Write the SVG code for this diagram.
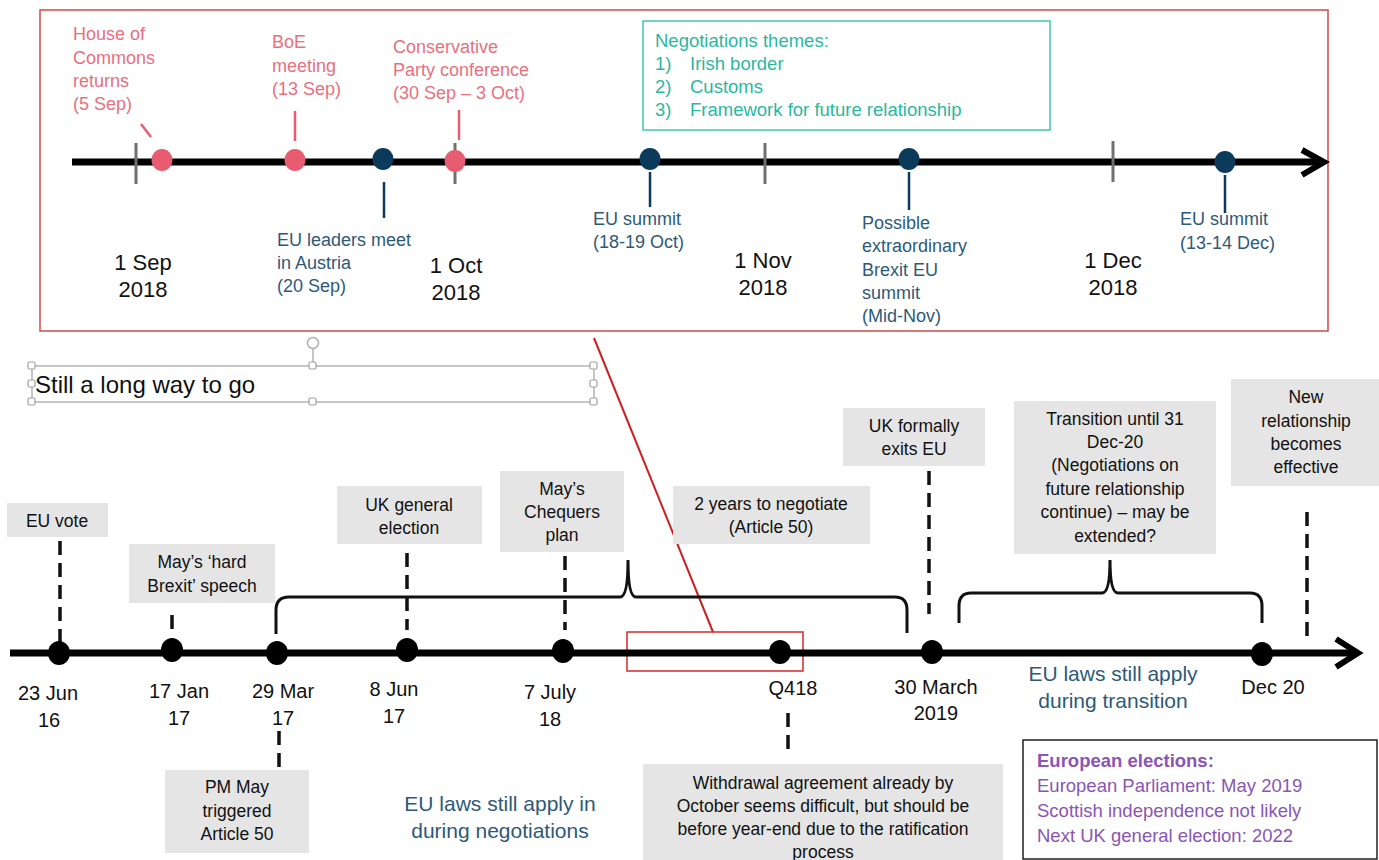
<svg xmlns="http://www.w3.org/2000/svg" width="1379" height="860" viewBox="0 0 1379 860">
<style>
text{font-family:"Liberation Sans",Arial,sans-serif}
.pk{fill:#e8707e;font-size:18px}
.nv{fill:#2d5a78;font-size:18px}
.dt{fill:#111;font-size:22px;text-anchor:middle}
.bd{fill:#111;font-size:20px;text-anchor:middle}
.bx{fill:#e5e5e5}
.bt{fill:#111;font-size:17.5px;text-anchor:middle}
.tl{fill:#2ab89e;font-size:18.5px}
.pu{fill:#8a55b4;font-size:18.5px}
.law{fill:#2d5a78;font-size:21px;text-anchor:middle}
.tick{stroke:#707070;stroke-width:3}
.dash{stroke:#111;stroke-width:3.5;stroke-dasharray:14 8;fill:none}
.brace{stroke:#111;stroke-width:3;fill:none}
.hd{fill:#fff;stroke:#a0a0a0;stroke-width:1.2}
</style>

<!-- top zoom panel -->
<rect x="40" y="10" width="1288" height="321" fill="none" stroke="#d24848" stroke-width="1.5"/>
<g id="themes">
<rect x="643" y="21" width="407" height="109" fill="#fff" stroke="#3cc8b0" stroke-width="1.5"/>
<text class="tl" x="655" y="47">Negotiations themes:</text>
<text class="tl" x="655" y="70">1)</text><text class="tl" x="690" y="70">Irish border</text>
<text class="tl" x="655" y="93">2)</text><text class="tl" x="690" y="93">Customs</text>
<text class="tl" x="655" y="116">3)</text><text class="tl" x="690" y="116">Framework for future relationship</text>
</g>

<g id="connectors">
<!-- top timeline -->
<line x1="72" y1="162" x2="1322" y2="162" stroke="#000" stroke-width="7"/>
<polyline points="1302,150 1324,162 1302,175" fill="none" stroke="#000" stroke-width="6" stroke-linejoin="miter"/>
<line class="tick" x1="136" y1="143" x2="136" y2="184"/>
<line class="tick" x1="455" y1="143" x2="455" y2="184"/>
<line class="tick" x1="765" y1="143" x2="765" y2="184"/>
<line class="tick" x1="1113" y1="141" x2="1113" y2="182"/>
<line x1="141" y1="124" x2="151" y2="137" stroke="#e85c72" stroke-width="2.5"/>
<line x1="295" y1="111" x2="295" y2="141" stroke="#e85c72" stroke-width="2.5"/>
<line x1="459" y1="110" x2="459" y2="140" stroke="#e85c72" stroke-width="2.5"/>
<line x1="384" y1="182" x2="384" y2="218" stroke="#0b3a5a" stroke-width="2.5"/>
<line x1="650" y1="172" x2="650" y2="207" stroke="#0b3a5a" stroke-width="2.5"/>
<line x1="909" y1="172" x2="909" y2="210" stroke="#0b3a5a" stroke-width="2.5"/>
<line x1="1225" y1="175" x2="1225" y2="213" stroke="#0b3a5a" stroke-width="2.5"/>

<!-- zoom link -->
<line x1="594" y1="338" x2="713" y2="632" stroke="#cc1f1f" stroke-width="2"/>
<rect x="627" y="632" width="176" height="39" fill="none" stroke="#d42a2a" stroke-width="1.5"/>

<!-- bottom timeline -->
<line x1="10" y1="653" x2="1356" y2="653" stroke="#000" stroke-width="7"/>
<polyline points="1336,639 1358,653 1336,667" fill="none" stroke="#000" stroke-width="6"/>

<!-- dashed connectors -->
<line class="dash" x1="60" y1="541" x2="60" y2="645"/>
<line class="dash" x1="172" y1="615" x2="172" y2="631"/>
<line class="dash" x1="407" y1="553" x2="407" y2="630"/>
<line class="dash" x1="565" y1="556" x2="565" y2="630"/>
<line class="dash" x1="279" y1="731" x2="279" y2="768"/>
<line class="dash" x1="929" y1="471" x2="929" y2="614"/>
<line class="dash" x1="1307" y1="512" x2="1307" y2="642"/>
<line class="dash" x1="788" y1="713" x2="788" y2="756"/>

<!-- braces -->
<path class="brace" d="M276,634 L276,610 Q276,597 289,597 L620,597 Q628,597 628,560 Q628,597 636,597 L895,597 Q907,597 907,610 L907,633"/>
<path class="brace" d="M959,623 L959,606 Q959,593 971,593 L1102,593 Q1110,593 1110,560 Q1110,593 1118,593 L1250,593 Q1262,593 1262,606 L1262,623"/>
</g>

<!-- top nodes -->
<g id="hoc">
<ellipse cx="162" cy="160" rx="10.5" ry="11" fill="#e85c72"/>
<text class="pk" x="73" y="40">House of</text>
<text class="pk" x="73" y="64">Commons</text>
<text class="pk" x="73" y="87">returns</text>
<text class="pk" x="73" y="110">(5 Sep)</text>
</g>
<g id="boe">
<ellipse cx="295" cy="160" rx="10.5" ry="11" fill="#e85c72"/>
<text class="pk" x="272" y="48">BoE</text>
<text class="pk" x="272" y="72">meeting</text>
<text class="pk" x="272" y="95">(13 Sep)</text>
</g>
<g id="euleaders">
<ellipse cx="383" cy="159" rx="10.5" ry="11" fill="#0b3a5a"/>
<text class="nv" x="277" y="246">EU leaders meet</text>
<text class="nv" x="277" y="269">in Austria</text>
<text class="nv" x="277" y="292">(20 Sep)</text>
</g>
<g id="conservative">
<ellipse cx="455" cy="161" rx="10.5" ry="11" fill="#e85c72"/>
<text class="pk" x="393" y="53">Conservative</text>
<text class="pk" x="393" y="76">Party conference</text>
<text class="pk" x="393" y="99">(30 Sep – 3 Oct)</text>
</g>
<g id="eusummit1">
<ellipse cx="650" cy="159" rx="10.5" ry="11" fill="#0b3a5a"/>
<text class="nv" x="593" y="225">EU summit</text>
<text class="nv" x="593" y="248">(18-19 Oct)</text>
</g>
<g id="extraordinary">
<ellipse cx="909" cy="159" rx="10.5" ry="11" fill="#0b3a5a"/>
<text class="nv" x="862" y="229">Possible</text>
<text class="nv" x="862" y="252">extraordinary</text>
<text class="nv" x="862" y="276">Brexit EU</text>
<text class="nv" x="862" y="299">summit</text>
<text class="nv" x="862" y="322">(Mid-Nov)</text>
</g>
<g id="eusummit2">
<ellipse cx="1225" cy="162" rx="10.5" ry="11" fill="#0b3a5a"/>
<text class="nv" x="1180" y="225">EU summit</text>
<text class="nv" x="1180" y="249">(13-14 Dec)</text>
</g>
<g id="months">
<text class="dt" x="143" y="270">1 Sep</text><text class="dt" x="143" y="297">2018</text>
<text class="dt" x="456" y="273">1 Oct</text><text class="dt" x="456" y="300">2018</text>
<text class="dt" x="763" y="268">1 Nov</text><text class="dt" x="763" y="295">2018</text>
<text class="dt" x="1113" y="268">1 Dec</text><text class="dt" x="1113" y="295">2018</text>
</g>

<!-- title text box with selection handles -->
<g id="title">
<rect x="32" y="366" width="562" height="36" fill="none" stroke="#a0a0a0" stroke-width="1.2"/>
<line x1="313" y1="349" x2="313" y2="366" stroke="#a0a0a0" stroke-width="1.2"/>
<circle cx="313" cy="343" r="5.5" fill="#fff" stroke="#b0b0b0" stroke-width="1.5"/>
<rect class="hd" x="28" y="362" width="7" height="7" rx="1.5"/>
<rect class="hd" x="309" y="362" width="7" height="7" rx="1.5"/>
<rect class="hd" x="590" y="362" width="7" height="7" rx="1.5"/>
<rect class="hd" x="28" y="380" width="7" height="7" rx="1.5"/>
<rect class="hd" x="590" y="380" width="7" height="7" rx="1.5"/>
<rect class="hd" x="28" y="398" width="7" height="7" rx="1.5"/>
<rect class="hd" x="309" y="398" width="7" height="7" rx="1.5"/>
<rect class="hd" x="590" y="398" width="7" height="7" rx="1.5"/>
<text x="35" y="393" fill="#111" font-size="24">Still a long way to go</text>
</g>

<!-- bottom nodes -->
<g id="euvote">
<rect class="bx" x="7" y="503" width="101" height="34"/>
<text class="bt" x="57" y="527">EU vote</text>
<ellipse cx="59" cy="653" rx="11" ry="12" fill="#000"/>
<text class="bd" x="48" y="700">23 Jun</text><text class="bd" x="49" y="727">16</text>
</g>
<g id="hardbrexit">
<rect class="bx" x="129" y="544" width="146" height="59"/>
<text class="bt" x="202" y="568">May’s ‘hard</text>
<text class="bt" x="202" y="592">Brexit’ speech</text>
<ellipse cx="172" cy="650" rx="11" ry="12" fill="#000"/>
<text class="bd" x="179" y="698">17 Jan</text><text class="bd" x="179" y="725">17</text>
</g>
<g id="article50">
<ellipse cx="277" cy="653" rx="11" ry="12" fill="#000"/>
<text class="bd" x="283" y="698">29 Mar</text><text class="bd" x="283" y="725">17</text>
<rect class="bx" x="165" y="770" width="144" height="83"/>
<text class="bt" x="237" y="793">PM May</text>
<text class="bt" x="237" y="817">triggered</text>
<text class="bt" x="237" y="840">Article 50</text>
</g>
<g id="election">
<rect class="bx" x="337" y="486" width="145" height="58"/>
<text class="bt" x="409" y="511">UK general</text>
<text class="bt" x="409" y="534">election</text>
<ellipse cx="407" cy="650" rx="11" ry="12" fill="#000"/>
<text class="bd" x="394" y="696">8 Jun</text><text class="bd" x="394" y="723">17</text>
</g>
<g id="chequers">
<rect class="bx" x="500" y="471" width="124" height="81"/>
<text class="bt" x="562" y="495">May’s</text>
<text class="bt" x="562" y="518">Chequers</text>
<text class="bt" x="562" y="541">plan</text>
<ellipse cx="563" cy="651" rx="11" ry="12" fill="#000"/>
<text class="bd" x="550" y="699">7 July</text><text class="bd" x="550" y="726">18</text>
</g>
<g id="negotiate">
<rect class="bx" x="673" y="486" width="197" height="58"/>
<text class="bt" x="771" y="510">2 years to negotiate</text>
<text class="bt" x="771" y="533">(Article 50)</text>
</g>
<g id="q418">
<ellipse cx="780" cy="652" rx="11" ry="12" fill="#000"/>
<text class="bd" x="793" y="695">Q418</text>
<rect class="bx" x="643" y="764" width="360" height="100"/>
<text class="bt" x="823" y="789">Withdrawal agreement already by</text>
<text class="bt" x="823" y="812">October seems difficult, but should be</text>
<text class="bt" x="823" y="835">before year-end due to the ratification</text>
<text class="bt" x="823" y="858">process</text>
</g>
<g id="exit">
<rect class="bx" x="843" y="408" width="142" height="58"/>
<text class="bt" x="914" y="432">UK formally</text>
<text class="bt" x="914" y="455">exits EU</text>
<ellipse cx="932" cy="652" rx="11" ry="12" fill="#000"/>
<text class="bd" x="936" y="694">30 March</text><text class="bd" x="936" y="720">2019</text>
</g>
<g id="transition">
<rect class="bx" x="1014" y="401" width="202" height="153"/>
<text class="bt" x="1115" y="425">Transition until 31</text>
<text class="bt" x="1115" y="448">Dec-20</text>
<text class="bt" x="1115" y="471">(Negotiations on</text>
<text class="bt" x="1115" y="495">future relationship</text>
<text class="bt" x="1115" y="518">continue) – may be</text>
<text class="bt" x="1115" y="542">extended?</text>
</g>
<g id="dec20">
<ellipse cx="1262" cy="654" rx="11" ry="12" fill="#000"/>
<text class="bd" x="1273" y="694">Dec 20</text>
</g>
<g id="newrel">
<rect class="bx" x="1231" y="379" width="148" height="107"/>
<text class="bt" x="1306" y="403">New</text>
<text class="bt" x="1306" y="427">relationship</text>
<text class="bt" x="1306" y="450">becomes</text>
<text class="bt" x="1306" y="473">effective</text>
</g>

<g id="laws">
<text class="law" x="500" y="811">EU laws still apply in</text>
<text class="law" x="500" y="838">during negotiations</text>
<text class="law" x="1113" y="681">EU laws still apply</text>
<text class="law" x="1113" y="708">during transition</text>
</g>

<g id="elections">
<rect x="1023" y="740" width="354" height="119" fill="#fff" stroke="#222" stroke-width="1.5"/>
<text class="pu" x="1037" y="767" font-weight="bold">European elections:</text>
<text class="pu" x="1037" y="792">European Parliament: May 2019</text>
<text class="pu" x="1037" y="817">Scottish independence not likely</text>
<text class="pu" x="1037" y="842">Next UK general election: 2022</text>
</g>
</svg>
